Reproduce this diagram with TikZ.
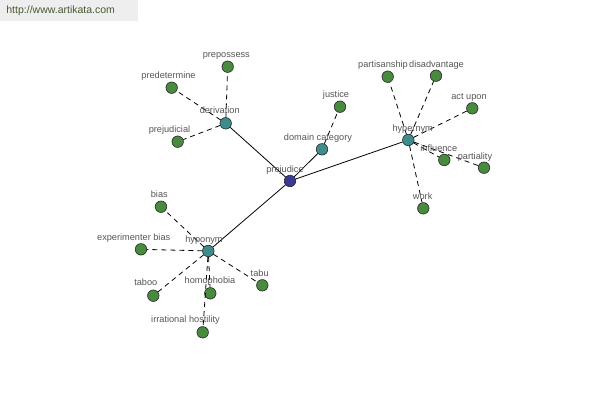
\documentclass[tikz,border=0pt]{standalone}
\usepackage{fontspec}
\setmainfont{Liberation Sans}
\definecolor{cnavy}{RGB}{58,58,148}
\definecolor{cteal}{RGB}{62,140,140}
\definecolor{cleaf}{RGB}{72,138,62}
\definecolor{ctext}{RGB}{85,85,85}
\definecolor{curlbg}{RGB}{238,238,238}
\definecolor{curl}{RGB}{70,90,50}
\tikzset{wordnet/.style={x=1pt,y=-1pt,line width=0.8pt},
  dot/.style={circle,draw=black!85,line width=0.6pt,minimum size=11.5pt,inner sep=0pt},
  hub/.style={dot,fill=cnavy},
  rel/.style={dot,fill=cteal},
  leaf/.style={dot,fill=cleaf},
  lbl/.style={text=ctext,inner sep=0pt,text height=6.5pt,text depth=2pt,
    font=\fontsize{9.2}{10}\selectfont},
  weak/.style={dash pattern=on 5pt off 4pt}}

\begin{document}
\begin{tikzpicture}[wordnet]
    \useasboundingbox (0,0) rectangle (600,400);
    \fill[curlbg] (0,0) rectangle (138,21);
    \node[text=curl,anchor=west,inner sep=0pt,font=\fontsize{10.5}{11}\selectfont] (url) at (6,11) {http://www.artikata.com};
    % relation nodes round the word
    \node[hub] (prejudice) at (290,181) {};
    \node[rel] (derivation) at (225.7,123.3) {};
    \node[rel] (domain) at (322,149.3) {};
    \node[rel] (hypernym) at (408.3,140) {};
    \node[rel] (hyponym) at (208.3,251) {};
    \foreach \r in {derivation,domain,hypernym,hyponym} \draw (prejudice) -- (\r);
    % related words
    \foreach \n/\x/\y/\p in {prepossess/227.7/66.7/derivation, predetermine/171.7/87.7/derivation,
        prejudicial/177.7/141.7/derivation, justice/340/106.7/domain,
        partisanship/387.7/76.7/hypernym, disadvantage/436/75.7/hypernym,
        actupon/472.3/108.3/hypernym, influence/444.3/160/hypernym,
        partiality/484/167.7/hypernym, work/423.3/208.3/hypernym,
        bias/161/206.7/hyponym, experimenter/141/249.3/hyponym,
        taboo/153.3/295.7/hyponym, homophobia/210.3/293.3/hyponym,
        tabu/262.3/285.3/hyponym, irrational/202.7/332.3/hyponym} {
      \node[leaf] (\n) at (\x,\y) {};
      \draw[weak] (\p) -- (\n);
    }
    % labels
    \foreach \n/\x/\y/\t in {prejudice/285/170/prejudice, derivation/219.7/111.7/derivation,
        domain/318/138.3/domain category, hypernym/412.7/129.3/hypernym,
        hyponym/204/240.5/hyponym, prepossess/226.3/55/prepossess,
        predetermine/168.5/76/predetermine, prejudicial/169.5/130.7/prejudicial,
        justice/336/95/justice, partisanship/383/65.7/partisanship,
        disadvantage/436.5/65.7/disadvantage, actupon/469/97.7/act upon,
        influence/438.8/149/influence, partiality/475/157/partiality,
        work/422.7/197.3/work, bias/159.3/195/bias,
        experimenter/133.7/238.3/experimenter bias, taboo/145.8/283.5/taboo,
        homophobia/210/281.7/homophobia, tabu/259.7/274.3/tabu,
        irrational/185.5/320.5/irrational hostility}
      \node[lbl] (\n-l) at (\x,\y) {\t};
\end{tikzpicture}
\end{document}
